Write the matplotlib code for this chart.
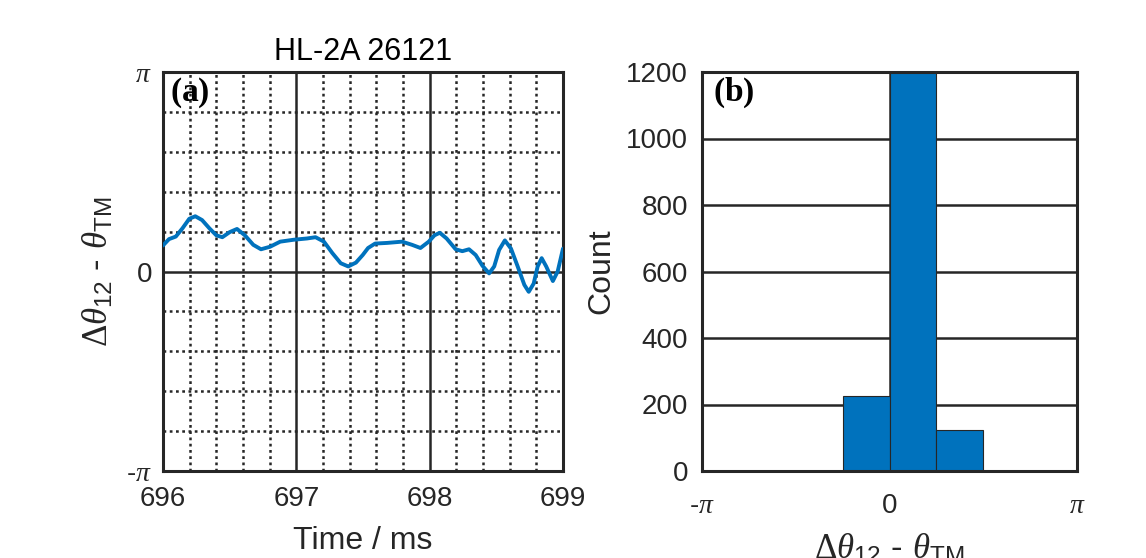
import numpy as np
import matplotlib
matplotlib.use('Agg')
import matplotlib.pyplot as plt

# fontes no estilo MATLAB: Arial para números, Times para letras gregas
plt.rcParams['font.family'] = ['Liberation Sans', 'DejaVu Sans']
plt.rcParams['mathtext.fontset'] = 'custom'
plt.rcParams['mathtext.rm'] = 'Liberation Serif'
plt.rcParams['mathtext.it'] = 'Liberation Serif:italic'
plt.rcParams['mathtext.bf'] = 'Liberation Serif:bold'
plt.rcParams['mathtext.sf'] = 'Liberation Sans'

# dados
# (a) diferença de fase ao longo do tempo (rad)
tempo_ms = [696.0, 696.045, 696.096, 696.146, 696.197, 696.242, 696.293, 696.348, 696.40, 696.445,
            696.50, 696.555, 696.614, 696.677, 696.735, 696.803, 696.879, 696.98, 697.08, 697.144,
            697.207, 697.27, 697.333, 697.389, 697.447, 697.498, 697.538, 697.591, 697.68, 697.793,
            697.868, 697.931, 697.993, 698.036, 698.076, 698.127, 698.195, 698.245, 698.295, 698.345,
            698.396, 698.446, 698.484, 698.521, 698.564, 698.61, 698.66, 698.71, 698.743, 698.78,
            698.81, 698.84, 698.874, 698.924, 698.96, 699.0]
fase = [0.41, 0.51, 0.55, 0.68, 0.83, 0.87, 0.81, 0.68, 0.57, 0.54,
        0.62, 0.67, 0.57, 0.42, 0.35, 0.39, 0.47, 0.50, 0.52, 0.54,
        0.47, 0.29, 0.13, 0.08, 0.14, 0.26, 0.37, 0.44, 0.45, 0.47,
        0.42, 0.37, 0.47, 0.57, 0.61, 0.52, 0.35, 0.32, 0.35, 0.26,
        0.09, -0.03, 0.08, 0.34, 0.49, 0.36, 0.08, -0.21, -0.32, -0.19,
        0.08, 0.21, 0.08, -0.15, 0.0, 0.36]

# (b) histograma: 8 classes de largura pi/4 entre -pi e pi
contagens = [0, 0, 0, 227, 1200, 123, 0, 0]

cor_linha = '#0072BD'
cor_eixo = '#262626'
W, H = 1146, 558

fig = plt.figure(figsize=(W / 100, H / 100), dpi=100)

# ----------------------------------------------------------------------------
# Painel (a)
ax1 = fig.add_axes([163 / W, 87 / H, 400 / W, 399 / H])
ax1.plot(tempo_ms, fase, color=cor_linha, lw=2.8, solid_joinstyle='round',
         solid_capstyle='round', zorder=3)
ax1.set_xlim(696, 699)
ax1.set_ylim(-np.pi, np.pi)
ax1.set_xticks([696, 697, 698, 699])
ax1.set_xticks(np.arange(696, 699.01, 0.2), minor=True)
ax1.set_yticks([-np.pi, 0, np.pi])
ax1.set_yticklabels([r'-$\pi$', '0', r'$\pi$'])
ax1.set_yticks(np.linspace(-np.pi, np.pi, 11), minor=True)
ax1.grid(True, which='major', color=cor_eixo, lw=1.8, ls='-')
ax1.grid(True, which='minor', color=cor_eixo, lw=1.8, ls=(0, (1.1, 1.4)))
ax1.set_axisbelow(True)
ax1.tick_params(which='both', length=0, labelsize=20, colors=cor_eixo)
ax1.tick_params(axis='x', pad=11)
ax1.tick_params(axis='y', pad=8)
for sp in ax1.spines.values():
    sp.set_linewidth(2.2)
    sp.set_color(cor_eixo)
ax1.set_title('HL-2A 26121', fontsize=22, color='black', pad=9)
ax1.set_xlabel('Time / ms', fontsize=23, color=cor_eixo, labelpad=10)
ax1.set_ylabel(r'$\Delta\theta_{\mathsf{12}}$ - $\theta_{\mathsf{TM}}$', fontsize=25,
               color=cor_eixo, labelpad=8)
ax1.text(0.018, 0.99, r'$\mathbf{(a)}$', transform=ax1.transAxes, fontsize=24,
         va='top', ha='left', color='black', zorder=5)

# ----------------------------------------------------------------------------
# Painel (b)
ax2 = fig.add_axes([702 / W, 87 / H, 375 / W, 399 / H])
bordas = np.linspace(-np.pi, np.pi, len(contagens) + 1)
ax2.bar(bordas[:-1], contagens, width=np.diff(bordas), align='edge',
        color=cor_linha, edgecolor=cor_eixo, lw=0.8, zorder=3)
ax2.set_xlim(-np.pi, np.pi)
ax2.set_ylim(0, 1200)
ax2.set_xticks([-np.pi, 0, np.pi])
ax2.set_xticklabels([r'-$\pi$', '0', r'$\pi$'])
ax2.set_yticks(np.arange(0, 1201, 200))
ax2.grid(True, color=cor_eixo, lw=1.8, ls='-')
ax2.set_axisbelow(True)
ax2.tick_params(length=0, labelsize=20, colors=cor_eixo)
ax2.tick_params(axis='x', pad=16)
ax2.tick_params(axis='y', pad=10)
for sp in ax2.spines.values():
    sp.set_linewidth(2.2)
    sp.set_color(cor_eixo)
    sp.set_zorder(4)
ax2.set_ylabel('Count', fontsize=23, color=cor_eixo, labelpad=7)
ax2.set_xlabel(r'$\Delta\theta_{\mathsf{12}}$ - $\theta_{\mathsf{TM}}$', fontsize=25,
               color=cor_eixo, labelpad=9)
ax2.text(0.03, 0.99, r'$\mathbf{(b)}$', transform=ax2.transAxes, fontsize=24,
         va='top', ha='left', color='black', zorder=5)

fig.savefig('out.png', dpi=100)
